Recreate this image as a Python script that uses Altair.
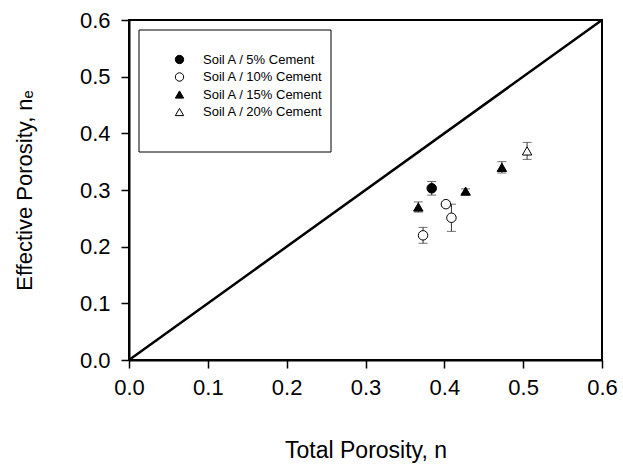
import altair as alt
import pandas as pd

series_names = ["Soil A / 5% Cement", "Soil A / 10% Cement",
                "Soil A / 15% Cement", "Soil A / 20% Cement"]
point_series = [0, 1, 1, 1, 2, 2, 2, 3]
total_porosity = [0.384, 0.373, 0.402, 0.409, 0.367, 0.427, 0.473, 0.505]
effective_porosity = [0.303, 0.220, 0.275, 0.251, 0.270, 0.298, 0.340, 0.369]
error = [0.012, 0.014, 0.004, 0.024, 0.009, 0.004, 0.010, 0.015]
line_x = [0.0, 0.6]
line_y = [0.0, 0.6]
tick_values = [0.0, 0.1, 0.2, 0.3, 0.4, 0.5, 0.6]

shapes = ["circle", "circle", "triangle-up", "triangle-up"]
fills = ["black", "white", "black", "white"]
strokes = ["black", "black", "black", "black"]

df = pd.DataFrame({
    "series": [series_names[i] for i in point_series],
    "n": total_porosity,
    "ne": effective_porosity,
    "lo": [v - e for v, e in zip(effective_porosity, error)],
    "hi": [v + e for v, e in zip(effective_porosity, error)],
})
line_df = pd.DataFrame({"n": line_x, "ne": line_y})
box_df = pd.DataFrame({"a": [0]})

FONT = "Liberation Sans"
xs = alt.Scale(domain=[0, 0.6], nice=False, zero=False)
ys = alt.Scale(domain=[0, 0.6], nice=False, zero=False)

x_axis = alt.Axis(values=tick_values, format=".1f", title="Total Porosity, n",
                  titleX=236.5, titleY=97, titleBaseline="alphabetic",
                  titleFontSize=23, labelPadding=9, labelFlush=False)
y_axis = alt.Axis(values=tick_values, format=".1f", title="Effective Porosity, nₑ",
                  titleAngle=270, titleX=-98, titleY=170, titleAlign="center",
                  titleBaseline="alphabetic", titleFontSize=22, labelPadding=11,
                  labelFlush=False)

box = alt.Chart(box_df).mark_rect(fill="white", stroke="black", strokeWidth=1).encode(
    x=alt.value(10), x2=alt.value(202), y=alt.value(10), y2=alt.value(132))

diag = alt.Chart(line_df).mark_line(color="black", strokeWidth=2.5).encode(
    x=alt.X("n:Q", scale=xs, axis=x_axis),
    y=alt.Y("ne:Q", scale=ys, axis=y_axis))

rules = alt.Chart(df).mark_rule(color="#333", strokeWidth=1).encode(
    x=alt.X("n:Q", scale=xs), y=alt.Y("lo:Q", scale=ys), y2="hi:Q")
cap_lo = alt.Chart(df).mark_tick(color="#333", size=9, thickness=1, orient="horizontal").encode(
    x=alt.X("n:Q", scale=xs), y=alt.Y("lo:Q", scale=ys))
cap_hi = alt.Chart(df).mark_tick(color="#333", size=9, thickness=1, orient="horizontal").encode(
    x=alt.X("n:Q", scale=xs), y=alt.Y("hi:Q", scale=ys))

points = alt.Chart(df).mark_point(strokeWidth=1, size=90,
                                  opacity=1, fillOpacity=1).encode(
    x=alt.X("n:Q", scale=xs),
    y=alt.Y("ne:Q", scale=ys),
    shape=alt.Shape("series:N", scale=alt.Scale(domain=series_names, range=shapes), title=None),
    fill=alt.Fill("series:N", scale=alt.Scale(domain=series_names, range=fills), title=None),
    stroke=alt.Stroke("series:N", scale=alt.Scale(domain=series_names, range=strokes), title=None),
)

chart = alt.layer(box, diag, rules, cap_lo, cap_hi, points).properties(
    width=473, height=340,
    autosize=alt.AutoSizeParams(type="none"),
    padding={"left": 129, "top": 20, "right": 21, "bottom": 104},
    background="white",
).configure_view(
    stroke="black", strokeWidth=2
).configure_axis(
    grid=False, domainColor="black", domainWidth=2, tickColor="black",
    tickWidth=1.5, tickSize=8, labelFont=FONT, labelFontSize=22,
    labelColor="black", titleFont=FONT, titleColor="black", titleFontWeight="normal",
).configure_legend(
    orient="none", legendX=44, legendY=33, padding=0, labelFont=FONT,
    labelFontSize=13, labelColor="black", symbolSize=70, labelOffset=17,
    rowPadding=3.5, symbolStrokeWidth=1,
)

chart.save("out.html", embed_options={"renderer": "svg", "actions": False})
